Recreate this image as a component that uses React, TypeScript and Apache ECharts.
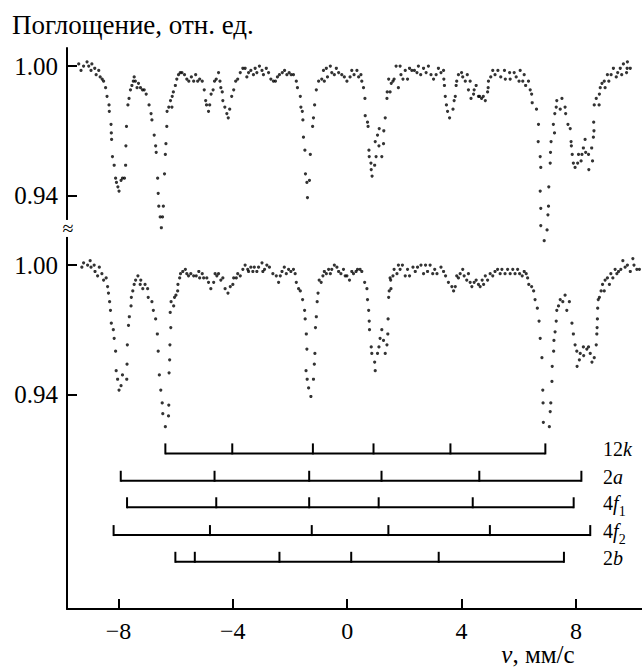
import React, { useEffect, useRef } from "react";
import * as echarts from "echarts";

// ---------- data ----------
// upper spectrum: velocity (mm/s) and relative absorption
const topV = [
  -9.39, -9.31, -9.22, -9.10, -9.04, -8.96, -8.93, -8.83, -8.78, -8.69, -8.64, -8.57, -8.52, -8.45, -8.40, -8.33,
  -8.32, -8.26, -8.25, -8.24, -8.21, -8.15, -8.10, -8.07, -8.02, -7.98, -7.91, -7.86, -7.79, -7.75, -7.74, -7.72,
  -7.67, -7.63, -7.58, -7.53, -7.48, -7.45, -7.41, -7.35, -7.30, -7.23, -7.16, -7.10, -7.03, -6.93, -6.86, -6.83,
  -6.75, -6.70, -6.68, -6.63, -6.61, -6.59, -6.54, -6.50, -6.46, -6.43, -6.39, -6.36, -6.34, -6.31, -6.30, -6.24,
  -6.18, -6.13, -6.12, -6.08, -6.01, -5.96, -5.90, -5.84, -5.78, -5.69, -5.61, -5.54, -5.45, -5.37, -5.30, -5.23,
  -5.16, -5.07, -5.00, -4.95, -4.92, -4.85, -4.81, -4.76, -4.69, -4.64, -4.58, -4.50, -4.45, -4.42, -4.37, -4.35,
  -4.28, -4.21, -4.16, -4.11, -4.04, -3.97, -3.90, -3.83, -3.74, -3.65, -3.57, -3.51, -3.45, -3.37, -3.28, -3.22,
  -3.16, -3.07, -2.98, -2.93, -2.83, -2.75, -2.67, -2.58, -2.51, -2.44, -2.37, -2.27, -2.19, -2.11, -2.03, -1.96,
  -1.88, -1.78, -1.74, -1.64, -1.62, -1.57, -1.55, -1.53, -1.48, -1.46, -1.41, -1.39, -1.32, -1.29, -1.21, -1.18,
  -1.14, -1.08, -1.00, -0.89, -0.83, -0.80, -0.73, -0.69, -0.59, -0.54, -0.45, -0.38, -0.30, -0.19, -0.10, -0.01,
  0.10, 0.16, 0.24, 0.34, 0.40, 0.48, 0.51, 0.57, 0.62, 0.63, 0.71, 0.73, 0.76, 0.77, 0.83, 0.84,
  0.87, 0.96, 0.98, 1.01, 1.06, 1.11, 1.12, 1.21, 1.27, 1.28, 1.33, 1.39, 1.40, 1.45, 1.50, 1.54,
  1.60, 1.64, 1.71, 1.79, 1.85, 1.88, 1.95, 2.03, 2.11, 2.18, 2.26, 2.35, 2.44, 2.49, 2.57, 2.67,
  2.76, 2.84, 2.93, 3.02, 3.11, 3.19, 3.28, 3.37, 3.38, 3.40, 3.43, 3.47, 3.51, 3.58, 3.70, 3.74,
  3.78, 3.81, 3.83, 3.89, 4.00, 4.04, 4.13, 4.20, 4.24, 4.30, 4.33, 4.42, 4.44, 4.51, 4.59, 4.63,
  4.70, 4.76, 4.83, 4.91, 4.93, 4.94, 5.02, 5.09, 5.17, 5.27, 5.37, 5.50, 5.53, 5.68, 5.70, 5.84,
  5.91, 6.01, 6.05, 6.14, 6.19, 6.24, 6.34, 6.40, 6.45, 6.47, 6.62, 6.69, 6.68, 6.75, 6.77, 6.75,
  6.77, 6.77, 6.89, 6.99, 7.02, 7.04, 7.05, 7.10, 7.11, 7.13, 7.21, 7.25, 7.26, 7.31, 7.33, 7.45,
  7.51, 7.62, 7.64, 7.72, 7.80, 7.83, 7.84, 7.87, 7.91, 7.97, 8.06, 8.09, 8.18, 8.21, 8.26, 8.32,
  8.34, 8.44, 8.45, 8.55, 8.58, 8.61, 8.63, 8.62, 8.64, 8.71, 8.81, 8.82, 8.85, 8.91, 8.99, 9.02,
  9.10, 9.15, 9.23, 9.31, 9.41, 9.46, 9.55, 9.60, 9.66, 9.77, 9.79, 9.80, 9.90,
];
const topA = [
  1.001, 0.998, 1.000, 1.002, 1.000, 0.998, 1.001, 0.999, 0.996, 0.998, 0.995, 0.994, 0.993, 0.990, 0.986, 0.982,
  0.979, 0.973, 0.969, 0.966, 0.958, 0.954, 0.948, 0.946, 0.944, 0.942, 0.947, 0.948, 0.948, 0.954, 0.963, 0.972,
  0.982, 0.985, 0.989, 0.991, 0.993, 0.995, 0.993, 0.990, 0.992, 0.990, 0.989, 0.989, 0.987, 0.982, 0.978, 0.975,
  0.968, 0.963, 0.960, 0.948, 0.941, 0.935, 0.930, 0.925, 0.930, 0.935, 0.950, 0.959, 0.964, 0.972, 0.979, 0.981,
  0.984, 0.981, 0.986, 0.988, 0.991, 0.994, 0.996, 0.997, 0.997, 0.996, 0.994, 0.993, 0.995, 0.993, 0.996, 0.993,
  0.994, 0.993, 0.989, 0.984, 0.982, 0.979, 0.982, 0.987, 0.989, 0.993, 0.994, 0.997, 0.993, 0.990, 0.988, 0.984,
  0.981, 0.978, 0.976, 0.980, 0.986, 0.989, 0.993, 0.994, 0.997, 0.999, 0.999, 0.995, 0.997, 0.998, 0.996, 0.999,
  0.997, 1.000, 0.998, 0.996, 0.999, 0.997, 0.994, 0.993, 0.993, 0.995, 0.996, 0.997, 0.998, 0.996, 0.997, 0.996,
  0.996, 0.993, 0.990, 0.986, 0.981, 0.979, 0.975, 0.967, 0.961, 0.950, 0.946, 0.939, 0.947, 0.959, 0.972, 0.976,
  0.982, 0.989, 0.993, 0.994, 0.998, 0.993, 0.999, 0.995, 1.000, 0.997, 0.996, 0.999, 0.997, 0.996, 0.995, 0.993,
  0.995, 0.998, 0.996, 0.998, 0.995, 0.996, 0.993, 0.990, 0.985, 0.977, 0.974, 0.972, 0.961, 0.958, 0.955, 0.952,
  0.949, 0.954, 0.965, 0.958, 0.968, 0.963, 0.971, 0.958, 0.964, 0.970, 0.976, 0.985, 0.988, 0.994, 0.988, 0.992,
  0.993, 0.994, 1.000, 0.990, 1.000, 0.996, 0.994, 0.998, 0.994, 0.999, 0.998, 0.998, 0.997, 1.000, 0.996, 0.999,
  0.997, 1.000, 0.996, 0.994, 0.996, 0.999, 0.997, 0.998, 0.994, 0.991, 0.986, 0.982, 0.979, 0.976, 0.980, 0.984,
  0.986, 0.991, 0.993, 0.996, 0.997, 0.995, 0.993, 0.996, 0.989, 0.993, 0.985, 0.987, 0.989, 0.991, 0.986, 0.986,
  0.985, 0.986, 0.984, 0.988, 0.990, 0.993, 0.995, 0.998, 0.996, 0.998, 0.995, 0.998, 0.994, 0.997, 0.994, 0.997,
  0.995, 0.993, 0.998, 0.993, 0.996, 0.991, 0.993, 0.989, 0.987, 0.983, 0.980, 0.973, 0.965, 0.958, 0.953, 0.942,
  0.934, 0.926, 0.919, 0.924, 0.931, 0.935, 0.944, 0.955, 0.960, 0.965, 0.973, 0.969, 0.978, 0.981, 0.984, 0.980,
  0.985, 0.981, 0.978, 0.973, 0.971, 0.965, 0.963, 0.959, 0.955, 0.953, 0.955, 0.959, 0.956, 0.959, 0.962, 0.966,
  0.960, 0.959, 0.952, 0.962, 0.956, 0.967, 0.970, 0.974, 0.982, 0.985, 0.982, 0.987, 0.990, 0.992, 0.993, 0.990,
  0.996, 0.993, 0.996, 0.999, 0.995, 0.997, 0.999, 0.996, 1.001, 0.997, 0.999, 1.002, 0.999,
];

// lower spectrum
const bottomV = [
  -9.28, -9.22, -9.08, -8.99, -8.96, -8.85, -8.82, -8.73, -8.67, -8.58, -8.52, -8.43, -8.38, -8.35, -8.31, -8.28,
  -8.25, -8.18, -8.15, -8.10, -8.08, -8.03, -7.98, -7.91, -7.86, -7.71, -7.70, -7.69, -7.65, -7.62, -7.56, -7.55,
  -7.50, -7.45, -7.40, -7.32, -7.24, -7.22, -7.15, -7.07, -6.98, -6.96, -6.83, -6.78, -6.70, -6.64, -6.61, -6.57,
  -6.52, -6.47, -6.45, -6.36, -6.25, -6.24, -6.23, -6.21, -6.20, -6.17, -6.19, -6.16, -6.07, -6.04, -5.99, -5.93,
  -5.92, -5.86, -5.83, -5.75, -5.66, -5.61, -5.55, -5.47, -5.37, -5.28, -5.19, -5.16, -5.07, -5.02, -4.91, -4.85,
  -4.77, -4.67, -4.62, -4.56, -4.50, -4.42, -4.35, -4.27, -4.17, -4.09, -4.00, -3.97, -3.88, -3.83, -3.74, -3.65,
  -3.57, -3.48, -3.45, -3.37, -3.30, -3.25, -3.16, -3.10, -2.98, -2.95, -2.89, -2.81, -2.72, -2.60, -2.48, -2.40,
  -2.34, -2.28, -2.20, -2.13, -2.05, -1.97, -1.88, -1.82, -1.78, -1.70, -1.64, -1.56, -1.49, -1.47, -1.43, -1.41,
  -1.44, -1.40, -1.35, -1.27, -1.18, -1.15, -1.13, -1.11, -1.08, -1.05, -1.02, -0.98, -0.91, -0.85, -0.80, -0.73,
  -0.65, -0.59, -0.54, -0.45, -0.36, -0.30, -0.22, -0.13, -0.07, -0.01, 0.08, 0.16, 0.22, 0.31, 0.36, 0.45,
  0.51, 0.61, 0.69, 0.71, 0.75, 0.77, 0.78, 0.84, 0.86, 0.96, 0.98, 1.06, 1.11, 1.15, 1.21, 1.27,
  1.33, 1.39, 1.42, 1.43, 1.45, 1.47, 1.53, 1.50, 1.52, 1.60, 1.64, 1.74, 1.79, 1.85, 1.93, 2.03,
  2.11, 2.18, 2.30, 2.38, 2.46, 2.58, 2.67, 2.74, 2.81, 2.90, 2.99, 3.06, 3.14, 3.28, 3.37, 3.44,
  3.54, 3.66, 3.72, 3.78, 3.83, 3.89, 3.95, 4.04, 4.09, 4.18, 4.24, 4.30, 4.36, 4.44, 4.51, 4.59,
  4.65, 4.72, 4.77, 4.83, 4.91, 5.00, 5.09, 5.17, 5.26, 5.35, 5.41, 5.52, 5.61, 5.70, 5.79, 5.87,
  5.96, 6.03, 6.12, 6.19, 6.26, 6.31, 6.35, 6.45, 6.52, 6.57, 6.65, 6.71, 6.75, 6.81, 6.84, 6.85,
  6.86, 7.07, 7.10, 7.12, 7.16, 7.17, 7.22, 7.23, 7.27, 7.31, 7.33, 7.39, 7.45, 7.54, 7.62, 7.68,
  7.77, 7.86, 7.91, 7.97, 8.03, 8.04, 8.12, 8.15, 8.26, 8.27, 8.38, 8.44, 8.50, 8.56, 8.64, 8.71,
  8.73, 8.74, 8.75, 8.76, 8.78, 8.82, 8.88, 8.93, 8.99, 9.02, 9.10, 9.17, 9.22, 9.29, 9.37, 9.43,
  9.49, 9.57, 9.64, 9.72, 9.80, 9.90, 9.99, 10.03, 10.13, 10.22,
];
const bottomA = [
  0.999, 1.001, 1.000, 1.002, 0.999, 1.000, 0.997, 0.995, 0.999, 0.996, 0.993, 0.994, 0.990, 0.987, 0.983, 0.979,
  0.973, 0.970, 0.966, 0.960, 0.951, 0.947, 0.942, 0.944, 0.949, 0.947, 0.954, 0.963, 0.972, 0.976, 0.981, 0.985,
  0.988, 0.991, 0.993, 0.995, 0.991, 0.993, 0.989, 0.991, 0.989, 0.985, 0.983, 0.979, 0.975, 0.968, 0.960, 0.949,
  0.942, 0.936, 0.931, 0.925, 0.930, 0.935, 0.950, 0.956, 0.963, 0.971, 0.978, 0.983, 0.981, 0.985, 0.986, 0.988,
  0.991, 0.994, 0.996, 0.997, 0.998, 0.996, 0.995, 0.996, 0.995, 0.995, 0.997, 0.994, 0.996, 0.994, 0.994, 0.992,
  0.989, 0.992, 0.996, 0.995, 0.996, 0.993, 0.994, 0.989, 0.987, 0.990, 0.991, 0.994, 0.994, 0.996, 0.995, 0.998,
  1.000, 0.998, 0.997, 0.999, 0.997, 0.999, 0.997, 0.999, 1.001, 0.997, 0.998, 1.000, 0.999, 0.996, 0.995, 0.992,
  0.995, 0.997, 0.999, 0.996, 0.998, 0.997, 0.998, 0.996, 0.992, 0.989, 0.988, 0.984, 0.979, 0.975, 0.968, 0.961,
  0.951, 0.947, 0.943, 0.939, 0.947, 0.954, 0.959, 0.971, 0.976, 0.983, 0.987, 0.993, 0.992, 0.995, 0.997, 0.996,
  0.998, 0.996, 0.998, 1.000, 0.999, 0.997, 0.996, 0.998, 0.995, 0.995, 0.993, 0.997, 0.996, 0.997, 0.998, 0.998,
  0.997, 0.992, 0.989, 0.984, 0.979, 0.974, 0.970, 0.962, 0.959, 0.955, 0.951, 0.959, 0.962, 0.966, 0.970, 0.965,
  0.959, 0.963, 0.968, 0.975, 0.985, 0.988, 0.989, 0.994, 0.993, 0.995, 0.998, 0.996, 1.000, 0.998, 1.000, 0.995,
  0.998, 0.995, 0.999, 0.997, 0.999, 1.000, 0.996, 1.000, 0.997, 1.000, 0.996, 0.998, 0.996, 0.999, 0.997, 0.995,
  0.992, 0.990, 0.988, 0.990, 0.995, 0.994, 0.996, 0.998, 0.995, 0.993, 0.996, 0.992, 0.990, 0.992, 0.993, 0.991,
  0.990, 0.993, 0.991, 0.995, 0.993, 0.996, 0.995, 0.997, 0.998, 0.996, 0.998, 0.996, 0.998, 0.996, 0.998, 0.996,
  0.998, 0.996, 0.995, 0.997, 0.996, 0.994, 0.991, 0.990, 0.988, 0.984, 0.980, 0.974, 0.966, 0.957, 0.942, 0.936,
  0.927, 0.925, 0.932, 0.936, 0.946, 0.953, 0.960, 0.965, 0.969, 0.974, 0.979, 0.981, 0.984, 0.983, 0.986, 0.979,
  0.983, 0.973, 0.968, 0.963, 0.960, 0.953, 0.956, 0.959, 0.962, 0.958, 0.961, 0.962, 0.959, 0.955, 0.957, 0.963,
  0.968, 0.971, 0.975, 0.980, 0.984, 0.985, 0.988, 0.991, 0.988, 0.993, 0.994, 0.991, 0.996, 0.994, 0.998, 0.996,
  0.997, 0.998, 1.002, 0.999, 1.000, 0.997, 1.003, 1.000, 0.998, 0.998,
];

// stick diagrams (line positions, mm/s)
const stickNames = ["12k", "2a", "4f1", "4f2", "2b"];
const stick12k = [-6.36, -4.02, -1.2, 0.92, 3.61, 6.93];
const stick2a = [-7.92, -4.64, -1.33, 1.2, 4.62, 8.19];
const stick4f1 = [-7.7, -4.58, -1.33, 1.1, 4.39, 7.92];
const stick4f2 = [-8.17, -4.8, -1.24, 1.44, 4.99, 8.5];
const stick2b = [-6.01, -5.33, -2.37, 0.14, 3.2, 7.58];
const stickPositions = [stick12k, stick2a, stick4f1, stick4f2, stick2b];

const xTicks = [-8, -4, 0, 4, 8];
const yTickValues = [0.94, 1.0];

// ---------- layout constants ----------
const TOP_OFFSET = 0.0923; // vertical shift of the upper spectrum (axis break)
const Y_MIN = 0.8404;
const Y_MAX = 1.1007;
const X_MIN = -9.8;
const X_MAX = 10.31;
const STICK_LEVELS = [0.9126, 0.8999, 0.8876, 0.8747, 0.8623];
const LABEL_V = 8.95;
const BREAK_VALUE = 1.0172;
const SERIF = "Liberation Serif";

const stickRich: Record<string, any> = {
  n: { fontSize: 20, fontFamily: SERIF, fill: "#000", lineHeight: 30 },
  i: { fontSize: 20, fontFamily: SERIF, fontStyle: "italic", fill: "#000", lineHeight: 30 },
  s: { fontSize: 14, fontFamily: SERIF, fill: "#000", lineHeight: 16, verticalAlign: "bottom" },
};
const stickLabelText = (name: string) => {
  const m = name.match(/^(\d+)([a-z])(\d*)$/);
  if (!m) return name;
  return `{n|${m[1]}}{i|${m[2]}}` + (m[3] ? `{s|${m[3]}}` : "");
};

export default function App() {
  const ref = useRef<HTMLDivElement>(null);
  useEffect(() => {
    if (!ref.current) return;
    const chart = echarts.init(ref.current, undefined, { renderer: "svg" });
    const topData = topV.map((v, i) => [v, topA[i] + TOP_OFFSET]);
    const bottomData = bottomV.map((v, i) => [v, bottomA[i]]);
    const yCustom = [...yTickValues, ...yTickValues.map((v) => v + TOP_OFFSET)];
    const option: any = {
      animation: false,
      backgroundColor: "#fff",
      textStyle: { fontFamily: SERIF },
      title: {
        text: "Поглощение, отн. ед.",
        left: 12,
        top: 11,
        padding: 0,
        textStyle: { fontSize: 27, fontFamily: SERIF, fontWeight: "normal", color: "#000" },
      },
      grid: { left: 67, top: 48, width: 575, height: 561, containLabel: false, outerBoundsMode: "none" },
      xAxis: {
        type: "value",
        min: X_MIN,
        max: X_MAX,
        axisLine: { show: true, onZero: false, lineStyle: { color: "#000", width: 2 } },
        axisTick: { show: true, inside: true, length: 10, customValues: xTicks, lineStyle: { color: "#000", width: 2 } },
        axisLabel: {
          customValues: xTicks,
          margin: 10,
          fontSize: 24,
          fontFamily: SERIF,
          color: "#000",
          formatter: (v: number) => (v < 0 ? "\u2212" + Math.abs(v) : String(v)),
        },
        splitLine: { show: false },
      },
      yAxis: {
        type: "value",
        min: Y_MIN,
        max: Y_MAX,
        axisLine: { show: true, onZero: false, lineStyle: { color: "#000", width: 2 } },
        axisTick: { show: true, inside: true, length: 10, customValues: yCustom, lineStyle: { color: "#000", width: 2 } },
        axisLabel: {
          customValues: yCustom,
          margin: 9,
          fontSize: 25,
          fontFamily: SERIF,
          color: "#000",
          formatter: (v: number) => (v > 1.01 ? v - TOP_OFFSET : v).toFixed(2),
        },
        splitLine: { show: false },
      },
      series: [
        {
          type: "scatter",
          data: topData,
          symbol: "circle",
          symbolSize: 3.2,
          itemStyle: { color: "#000" },
          silent: true,
        },
        {
          type: "scatter",
          data: bottomData,
          symbol: "circle",
          symbolSize: 3.2,
          itemStyle: { color: "#000" },
          silent: true,
        },
        {
          type: "custom",
          silent: true,
          clip: false,
          data: stickNames.map((_, i) => [stickPositions[i][0], STICK_LEVELS[i]]),
          renderItem: (params: any, api: any) => {
            const r = params.dataIndex;
            const pos = stickPositions[r];
            const level = STICK_LEVELS[r];
            const pts = pos.map((p) => api.coord([p, level]));
            const minX = Math.min(...pts.map((p: number[]) => p[0]));
            const maxX = Math.max(...pts.map((p: number[]) => p[0]));
            const y = pts[0][1];
            const style = { stroke: "#000", lineWidth: 2, fill: null };
            const children: any[] = [
              { type: "line", shape: { x1: minX, y1: y, x2: maxX, y2: y }, style },
            ];
            pts.forEach((p: number[]) => {
              children.push({ type: "line", shape: { x1: p[0], y1: y + 1, x2: p[0], y2: y - 10 }, style });
            });
            const lab = api.coord([LABEL_V, level]);
            children.push({
              type: "text",
              x: lab[0],
              y: lab[1] - 4,
              style: {
                text: stickLabelText(stickNames[r]),
                rich: stickRich,
                fontFamily: SERIF,
                align: "left",
                verticalAlign: "middle",
                fill: "#000",
              },
            });
            return { type: "group", children };
          },
        },
      ],
    };
    chart.setOption(option);

    const b = chart.convertToPixel({ xAxisIndex: 0, yAxisIndex: 0 }, [X_MIN, BREAK_VALUE]) as number[];
    chart.setOption({
      graphic: [
        { type: "rect", shape: { x: b[0] - 4, y: b[1] - 8, width: 8, height: 17 }, style: { fill: "#fff" }, z: 100 },
        {
          type: "text",
          x: b[0] + 1,
          y: b[1],
          z: 101,
          style: { text: "\u2248", fontSize: 20, fontFamily: SERIF, fill: "#000", align: "center", verticalAlign: "middle" },
        },
        {
          type: "text",
          x: 538,
          y: 654,
          style: {
            text: "{i|v}{n|, мм/с}",
            align: "center",
            verticalAlign: "middle",
            fontFamily: SERIF,
            rich: {
              i: { fontSize: 25, fontFamily: SERIF, fontStyle: "italic", fill: "#000" },
              n: { fontSize: 25, fontFamily: SERIF, fill: "#000" },
            },
          },
        },
      ],
    });
    return () => chart.dispose();
  }, []);
  return <div ref={ref} style={{ position: "absolute", left: 0, top: 0, width: 642, height: 668 }} />;
}
